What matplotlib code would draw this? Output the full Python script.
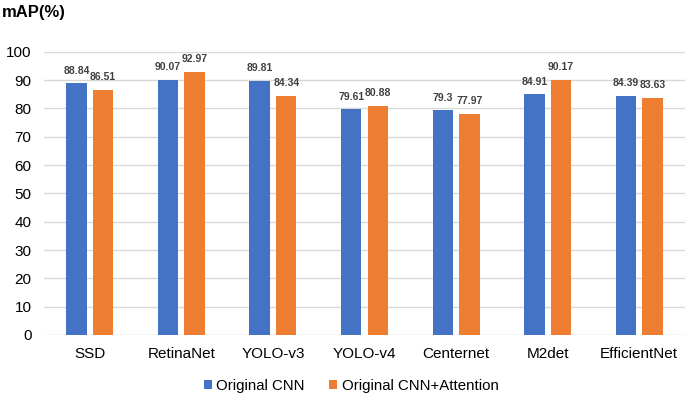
import matplotlib.pyplot as plt
import numpy as np

plt.rcParams['font.family'] = ['Liberation Sans', 'DejaVu Sans']

models = ['SSD', 'RetinaNet', 'YOLO-v3', 'YOLO-v4', 'Centernet', 'M2det', 'EfficientNet']
cnn = [88.84, 90.07, 89.81, 79.61, 79.3, 84.91, 84.39]
cnn_att = [86.51, 92.97, 84.34, 80.88, 77.97, 90.17, 83.63]
cnn_txt = ['88.84', '90.07', '89.81', '79.61', '79.3', '84.91', '84.39']
att_txt = ['86.51', '92.97', '84.34', '80.88', '77.97', '90.17', '83.63']

W, H = 685, 397
fig = plt.figure(figsize=(W / 100, H / 100), dpi=100)
ax = fig.add_axes([44 / W, 1 - 335 / H, 641 / W, 283.3 / H])

x = np.arange(len(models))
w = 0.224
b1 = ax.bar(x - 0.145, cnn, w, color='#4472C4', label='Original CNN', zorder=3)
b2 = ax.bar(x + 0.145, cnn_att, w, color='#ED7D31', label='Original CNN+Attention', zorder=3)

for bars, txt in ((b1, cnn_txt), (b2, att_txt)):
    for r, t in zip(bars, txt):
        ax.annotate(t, (r.get_x() + r.get_width() / 2, r.get_height()),
                    xytext=(0, 5.5), textcoords='offset points', ha='center', va='bottom',
                    fontsize=7.5, fontweight='bold', color='#404040')

ax.set_ylim(0, 100)
ax.set_yticks(range(0, 101, 10))
ax.set_xlim(-0.5, 6.5)
ax.set_xticks(x)
ax.set_xticklabels(models)
ax.tick_params(axis='both', length=0, labelsize=11, colors='#000000')
ax.tick_params(axis='x', pad=9)
ax.tick_params(axis='y', pad=9)
ax.grid(axis='y', color='#D9D9D9', linewidth=1, zorder=0)
for s in ax.spines.values():
    s.set_visible(False)

fig.text(2 / W, 1 - 12 / H, 'mAP(%)', fontsize=12, fontweight='bold', va='center', ha='left')

fig.legend(handles=[b1, b2], loc='center', bbox_to_anchor=(351 / W, 1 - 386 / H),
           ncol=2, frameon=False, fontsize=10.8, handlelength=0.55, handleheight=0.55,
           handletextpad=0.3, columnspacing=1.6)

fig.savefig('out.png', dpi=100)
